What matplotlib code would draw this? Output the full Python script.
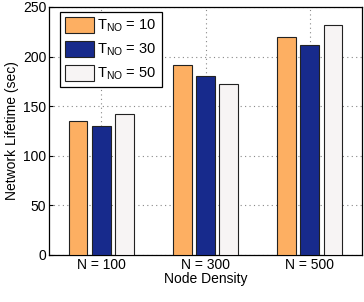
import matplotlib
matplotlib.use("Agg")
import matplotlib.pyplot as plt
import numpy as np

plt.rcParams['font.family'] = ['Liberation Sans', 'DejaVu Sans']
plt.rcParams['mathtext.fontset'] = 'custom'
plt.rcParams['mathtext.rm'] = 'Liberation Sans'
plt.rcParams['mathtext.it'] = 'Liberation Sans'

categories = ['N = 100', 'N = 300', 'N = 500']
series_labels = [r'T$_{\mathrm{NO}}$ = 10', r'T$_{\mathrm{NO}}$ = 30', r'T$_{\mathrm{NO}}$ = 50']
t10 = [135, 192, 220]
t30 = [130, 180, 212]
t50 = [142, 172, 232]
colors = ['#FDAF62', '#172A8C', '#F7F4F4']

fig = plt.figure(figsize=(3.64, 3.02), dpi=100)
ax = fig.add_axes([49/364, 1-255/302, 313/364, 248/302])

x = np.arange(1, len(categories) + 1)
w = 0.18
off = 0.222
for i, (vals, c, lab) in enumerate(zip([t10, t30, t50], colors, series_labels)):
    ax.bar(x + (i - 1) * off, vals, width=w, color=c, edgecolor='#222222', linewidth=0.8, label=lab, zorder=3)

ax.set_xlim(0.5, 3.5)
ax.set_ylim(0, 250)
ax.set_xticks(x)
ax.set_xticklabels(categories)
ax.set_yticks([0, 50, 100, 150, 200, 250])
ax.tick_params(labelsize=10, direction='in', length=3, pad=2)
ax.grid(True, linestyle=(0, (1, 3)), color='#888888', linewidth=0.8, zorder=0)
ax.set_xlabel('Node Density', fontsize=10, labelpad=0)
ax.set_ylabel('Network Lifetime (sec)', fontsize=10, labelpad=3)
for s in ax.spines.values():
    s.set_linewidth(0.9)

leg = ax.legend(loc='upper left', fontsize=10.5, fancybox=False, edgecolor='black',
                framealpha=1, handlelength=2.0, handleheight=1.3, borderpad=0.35,
                labelspacing=0.45, handletextpad=0.2, borderaxespad=0,
                bbox_to_anchor=(11/313, 1 - 5/248))
leg.get_frame().set_linewidth(0.9)

fig.savefig('out.png', dpi=100)
